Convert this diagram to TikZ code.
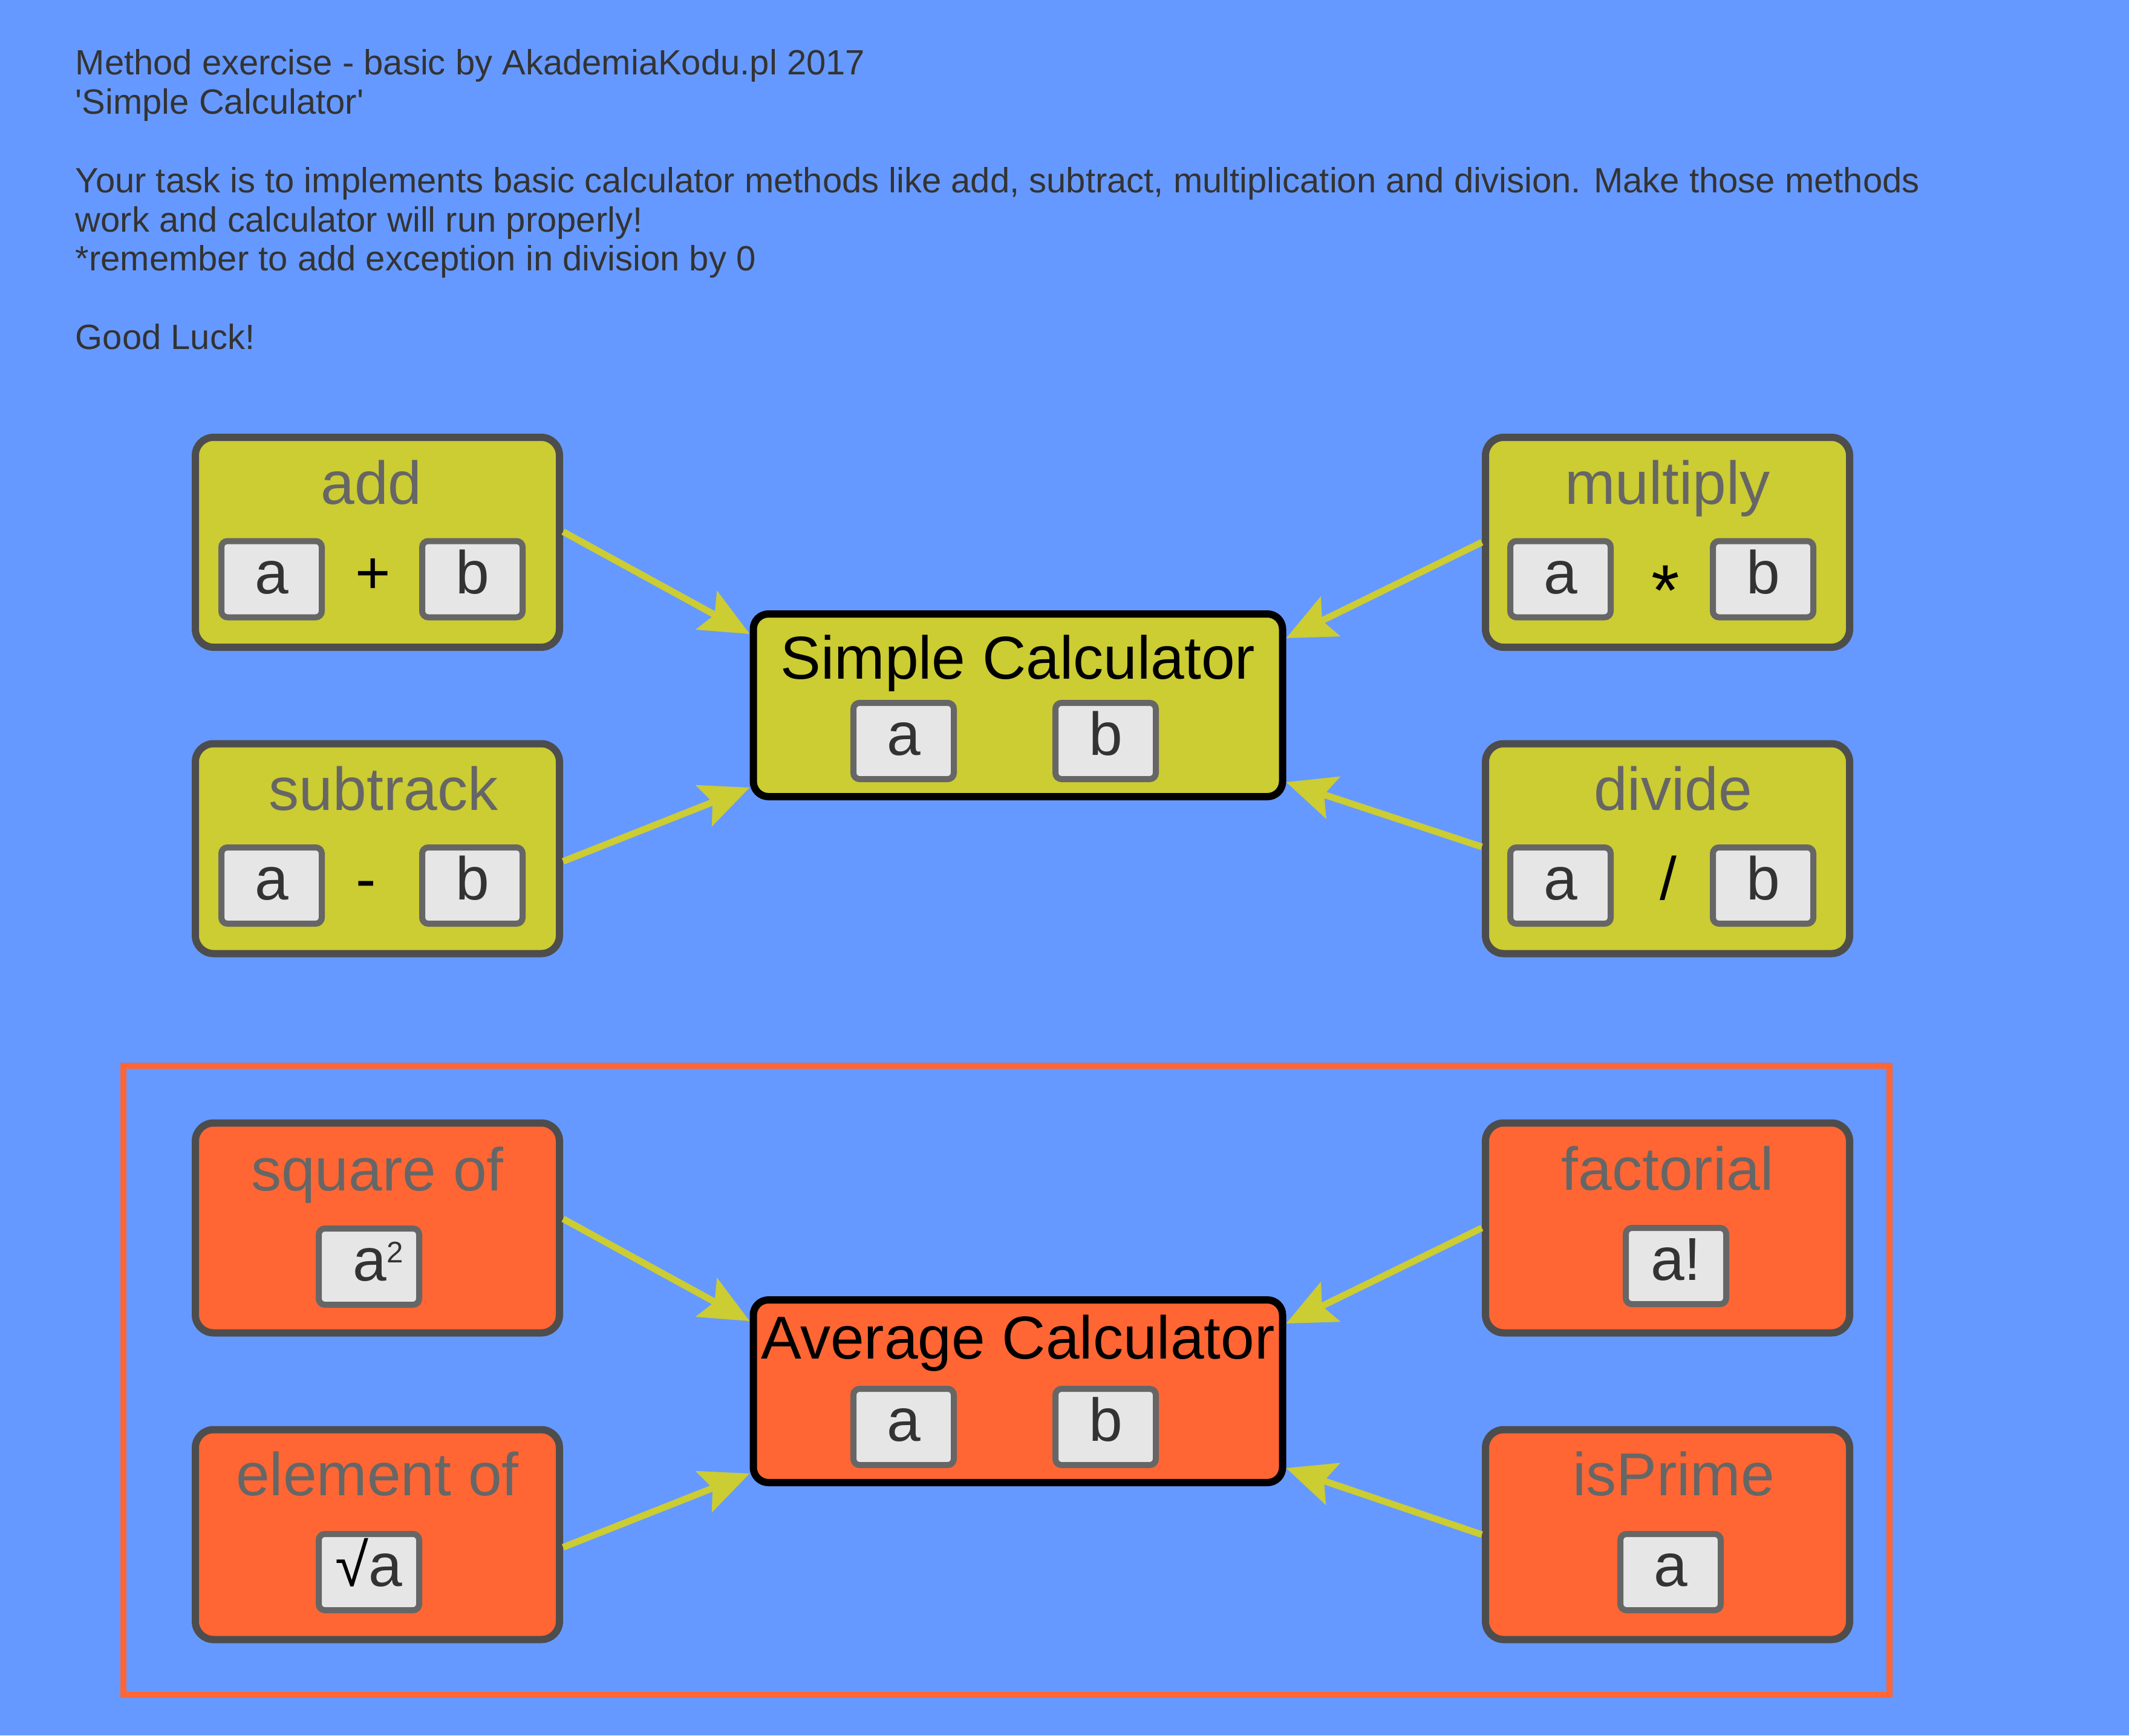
\documentclass[tikz,border=0pt]{standalone}
\usepackage{fontspec}
\setmainfont{Liberation Sans}
\usepackage{xcolor}
\usepackage{tikz}
\usetikzlibrary{positioning}
\usetikzlibrary{arrows.meta}

\definecolor{fundo}{HTML}{6699FF}
\definecolor{amarelo}{HTML}{CCCC33}
\definecolor{laranja}{HTML}{FF6633}
\definecolor{borda}{HTML}{4D4D4D}
\definecolor{cinza}{HTML}{666666}
\definecolor{claro}{HTML}{E6E6E6}
\definecolor{escuro}{HTML}{333333}

\tikzset{
  metodo/.style={draw=borda, line width=0.12cm, rounded corners=0.3cm, minimum width=6.02cm, minimum height=3.47cm, inner sep=0pt},
  calculadora/.style={draw=black, line width=0.12cm, rounded corners=0.25cm, minimum width=8.75cm, minimum height=3.02cm, inner sep=0pt},
  titulo/.style={anchor=base, inner sep=0pt, font=\fontsize{28.5}{34}\selectfont},
  valor/.style={draw=cinza, fill=claro, line width=0.1cm, rounded corners=0.1cm, minimum width=1.66cm, minimum height=1.26cm, inner sep=0pt, text=escuro, font=\fontsize{28.5}{34}\selectfont, text height=13.4pt, text depth=0pt},
  oper/.style={inner sep=0pt, text=black, font=\fontsize{28.5}{34}\selectfont, text height=13.4pt, text depth=0pt},
  seta/.style={draw=amarelo, line width=0.11cm, -{Stealth[length=0.81cm, width=0.72cm, inset=0.15cm]}}
}

\begin{document}
\begin{tikzpicture}
            % Fundo azul
            \fill[fundo] (0,0) rectangle (35.2,-28.69);

            % Texto do enunciado
            \node[anchor=north west, inner sep=0pt, align=left, text=escuro, font=\fontsize{16.5}{18.45}\selectfont] (enunciado) at (1.24,-0.81)
              {Method exercise - basic by AkademiaKodu.pl 2017\\
               \textquotesingle Simple Calculator\textquotesingle\\[18.45pt]
               Your task is to implements basic calculator methods like add, subtract, multiplication and division. Make those methods\\
               work and calculator will run properly!\\
               *remember to add exception in division by 0\\[18.45pt]
               Good Luck!};

            % Calculadora simples
            \node[calculadora, fill=amarelo] (simple) at (16.83,-11.66) {};
            \node[titulo] (simpleT) at ([yshift=0.44cm]simple.center) {Simple Calculator};
            \node[valor] (simpleA) at ([xshift=-1.89cm, yshift=-0.59cm]simple.center) {a};
            \node[valor] (simpleB) at ([xshift=1.45cm, yshift=-0.59cm]simple.center) {b};

            % Metodos da calculadora simples
            \node[metodo, fill=amarelo] (add) at (6.24,-8.965) {};
            \node[titulo, text=cinza] (addT) at ([xshift=-0.1cm, yshift=0.635cm]add.center) {add};
            \node[valor] (addA) at ([xshift=-1.75cm, yshift=-0.61cm]add.center) {a};
            \node[oper] (addOp) at ([xshift=-0.07cm, yshift=-0.61cm]add.center) {+};
            \node[valor] (addB) at ([xshift=1.57cm, yshift=-0.61cm]add.center) {b};

            \node[metodo, fill=amarelo] (subtrack) at (6.24,-14.03) {};
            \node[titulo, text=cinza] (subtrackT) at ([xshift=0.1cm, yshift=0.635cm]subtrack.center) {subtrack};
            \node[valor] (subtrackA) at ([xshift=-1.75cm, yshift=-0.61cm]subtrack.center) {a};
            \node[oper] (subtrackOp) at ([xshift=-0.19cm, yshift=-0.61cm]subtrack.center) {-};
            \node[valor] (subtrackB) at ([xshift=1.57cm, yshift=-0.61cm]subtrack.center) {b};

            \node[metodo, fill=amarelo] (multiply) at (27.57,-8.965) {};
            \node[titulo, text=cinza] (multiplyT) at ([yshift=0.635cm]multiply.center) {multiply};
            \node[valor] (multiplyA) at ([xshift=-1.77cm, yshift=-0.61cm]multiply.center) {a};
            \node[oper] (multiplyOp) at ([xshift=-0.03cm, yshift=-0.61cm]multiply.center) {\raisebox{-0.36em}{\fontsize{34}{34}\selectfont *}};
            \node[valor] (multiplyB) at ([xshift=1.58cm, yshift=-0.61cm]multiply.center) {b};

            \node[metodo, fill=amarelo] (divide) at (27.57,-14.03) {};
            \node[titulo, text=cinza] (divideT) at ([xshift=0.09cm, yshift=0.635cm]divide.center) {divide};
            \node[valor] (divideA) at ([xshift=-1.77cm, yshift=-0.61cm]divide.center) {a};
            \node[oper] (divideOp) at ([xshift=0.01cm, yshift=-0.61cm]divide.center) {/};
            \node[valor] (divideB) at ([xshift=1.58cm, yshift=-0.61cm]divide.center) {b};

            % Setas para a calculadora simples
            \draw[seta] ([yshift=0.175cm]add.east) -- ([yshift=1.18cm]simple.west);
            \draw[seta] ([yshift=-0.21cm]subtrack.east) -- ([yshift=-1.36cm]simple.west);
            \draw[seta] (multiply.west) -- ([yshift=1.11cm]simple.east);
            \draw[seta] ([yshift=0.03cm]divide.west) -- ([yshift=-1.27cm]simple.east);

            % Moldura laranja
            \draw[laranja, line width=0.1cm] (2.04,-17.62) rectangle (31.24,-28.02);

            % Calculadora de media
            \node[calculadora, fill=laranja] (average) at (16.83,-23.0) {};
            \node[titulo] (averageT) at ([yshift=0.54cm]average.center) {Average Calculator};
            \node[valor] (averageA) at ([xshift=-1.89cm, yshift=-0.59cm]average.center) {a};
            \node[valor] (averageB) at ([xshift=1.45cm, yshift=-0.59cm]average.center) {b};

            % Metodos da calculadora de media
            \node[metodo, fill=laranja] (square) at (6.24,-20.3) {};
            \node[titulo, text=cinza] (squareT) at ([yshift=0.62cm]square.center) {square of};
            \node[valor] (squareA) at ([xshift=-0.14cm, yshift=-0.64cm]square.center) {\hspace{0.3cm}a\raisebox{8.5pt}{\fontsize{14}{14}\selectfont 2}};

            \node[metodo, fill=laranja] (element) at (6.24,-25.37) {};
            \node[titulo, text=cinza] (elementT) at ([yshift=0.65cm]element.center) {element of};
            \node[valor] (elementA) at ([xshift=-0.14cm, yshift=-0.62cm]element.center) {\textcolor{black}{√}a};

            \node[metodo, fill=laranja] (factorial) at (27.57,-20.3) {};
            \node[titulo, text=cinza] (factorialT) at ([yshift=0.63cm]factorial.center) {factorial};
            \node[valor] (factorialA) at ([xshift=0.14cm, yshift=-0.63cm]factorial.center) {a!};

            \node[metodo, fill=laranja] (isprime) at (27.57,-25.37) {};
            \node[titulo, text=cinza] (isprimeT) at ([xshift=0.1cm, yshift=0.65cm]isprime.center) {isPrime};
            \node[valor] (isprimeA) at ([xshift=0.05cm, yshift=-0.62cm]isprime.center) {a};

            % Setas para a calculadora de media
            \draw[seta] ([yshift=0.15cm]square.east) -- ([yshift=1.16cm]average.west);
            \draw[seta] ([yshift=-0.21cm]element.east) -- ([yshift=-1.36cm]average.west);
            \draw[seta] (factorial.west) -- ([yshift=1.12cm]average.east);
            \draw[seta] (isprime.west) -- ([yshift=-1.27cm]average.east);
        \end{tikzpicture}
\end{document}
